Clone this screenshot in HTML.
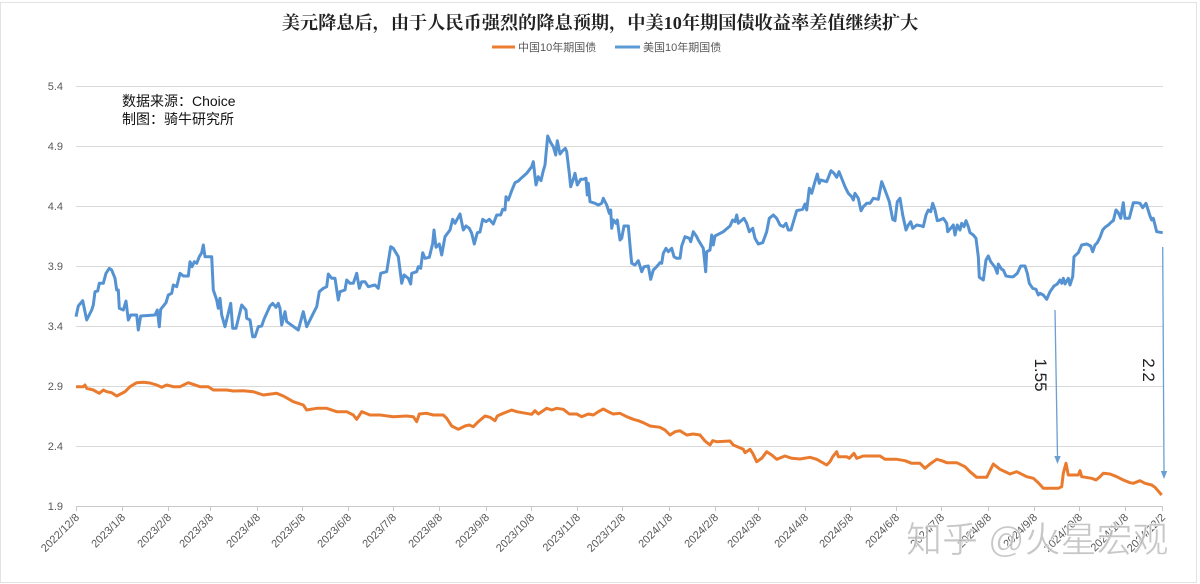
<!DOCTYPE html>
<html><head><meta charset="utf-8">
<style>
html,body{margin:0;padding:0;background:#fff;}
svg{display:block;}
text{font-family:"Liberation Sans","Noto Sans CJK SC",sans-serif;}
</style></head>
<body>
<svg width="1200" height="584" viewBox="0 0 1200 584" xmlns="http://www.w3.org/2000/svg">
<rect x="0.5" y="2.5" width="1196" height="580" fill="#fff" stroke="#e3e3e3" stroke-width="1"/>
<!-- title -->
<text x="600" y="29" text-anchor="middle" font-size="18.2" font-weight="bold" fill="#222" style="font-family:'Liberation Serif','Noto Serif CJK SC',serif">美元降息后，由于人民币强烈的降息预期，中美10年期国债收益率差值继续扩大</text>
<!-- legend -->
<line x1="492" y1="47" x2="515" y2="47" stroke="#ED7D31" stroke-width="3"/>
<text x="518" y="51" font-size="11" fill="#595959">中国10年期国债</text>
<line x1="615" y1="47" x2="640" y2="47" stroke="#5B9BD5" stroke-width="3"/>
<text x="643" y="51" font-size="11" fill="#595959">美国10年期国债</text>
<!-- gridlines -->
<g stroke="#d9d9d9" stroke-width="1">
<line x1="76" y1="86.5" x2="1163" y2="86.5"/>
<line x1="76" y1="146.5" x2="1163" y2="146.5"/>
<line x1="76" y1="206.5" x2="1163" y2="206.5"/>
<line x1="76" y1="266.5" x2="1163" y2="266.5"/>
<line x1="76" y1="326.5" x2="1163" y2="326.5"/>
<line x1="76" y1="386.5" x2="1163" y2="386.5"/>
<line x1="76" y1="446.5" x2="1163" y2="446.5"/>
</g>
<line x1="76" y1="506.5" x2="1163" y2="506.5" stroke="#c8c8c8" stroke-width="1"/>
<!-- y labels -->
<g font-size="11" fill="#595959" text-anchor="end">
<text x="63" y="90">5.4</text>
<text x="63" y="150">4.9</text>
<text x="63" y="210">4.4</text>
<text x="63" y="270">3.9</text>
<text x="63" y="330">3.4</text>
<text x="63" y="390">2.9</text>
<text x="63" y="450">2.4</text>
<text x="63" y="510">1.9</text>
</g>
<!-- x ticks -->
<g stroke="#c8c8c8" stroke-width="1">
<line x1="76.5" y1="506" x2="76.5" y2="511"/><line x1="122.5" y1="506" x2="122.5" y2="511"/><line x1="168.5" y1="506" x2="168.5" y2="511"/><line x1="210.5" y1="506" x2="210.5" y2="511"/><line x1="257.5" y1="506" x2="257.5" y2="511"/><line x1="302.5" y1="506" x2="302.5" y2="511"/><line x1="348.5" y1="506" x2="348.5" y2="511"/><line x1="393.5" y1="506" x2="393.5" y2="511"/><line x1="439.5" y1="506" x2="439.5" y2="511"/><line x1="486.5" y1="506" x2="486.5" y2="511"/><line x1="531.5" y1="506" x2="531.5" y2="511"/><line x1="577.5" y1="506" x2="577.5" y2="511"/><line x1="622.5" y1="506" x2="622.5" y2="511"/><line x1="669.5" y1="506" x2="669.5" y2="511"/><line x1="715.5" y1="506" x2="715.5" y2="511"/><line x1="758.5" y1="506" x2="758.5" y2="511"/><line x1="805.5" y1="506" x2="805.5" y2="511"/><line x1="850.5" y1="506" x2="850.5" y2="511"/><line x1="896.5" y1="506" x2="896.5" y2="511"/><line x1="941.5" y1="506" x2="941.5" y2="511"/><line x1="988.5" y1="506" x2="988.5" y2="511"/><line x1="1034.5" y1="506" x2="1034.5" y2="511"/><line x1="1079.5" y1="506" x2="1079.5" y2="511"/><line x1="1125.5" y1="506" x2="1125.5" y2="511"/><line x1="1162.5" y1="506" x2="1162.5" y2="511"/>
</g>
<!-- x labels -->
<g font-size="11" fill="#595959" text-anchor="end">
<text transform="translate(80,518) rotate(-45)">2022/12/8</text>
<text transform="translate(126,518) rotate(-45)">2023/1/8</text>
<text transform="translate(172,518) rotate(-45)">2023/2/8</text>
<text transform="translate(214,518) rotate(-45)">2023/3/8</text>
<text transform="translate(261,518) rotate(-45)">2023/4/8</text>
<text transform="translate(306,518) rotate(-45)">2023/5/8</text>
<text transform="translate(352,518) rotate(-45)">2023/6/8</text>
<text transform="translate(397,518) rotate(-45)">2023/7/8</text>
<text transform="translate(443,518) rotate(-45)">2023/8/8</text>
<text transform="translate(490,518) rotate(-45)">2023/9/8</text>
<text transform="translate(535,518) rotate(-45)">2023/10/8</text>
<text transform="translate(581,518) rotate(-45)">2023/11/8</text>
<text transform="translate(626,518) rotate(-45)">2023/12/8</text>
<text transform="translate(673,518) rotate(-45)">2024/1/8</text>
<text transform="translate(719,518) rotate(-45)">2024/2/8</text>
<text transform="translate(762,518) rotate(-45)">2024/3/8</text>
<text transform="translate(809,518) rotate(-45)">2024/4/8</text>
<text transform="translate(854,518) rotate(-45)">2024/5/8</text>
<text transform="translate(900,518) rotate(-45)">2024/6/8</text>
<text transform="translate(945,518) rotate(-45)">2024/7/8</text>
<text transform="translate(992,518) rotate(-45)">2024/8/8</text>
<text transform="translate(1038,518) rotate(-45)">2024/9/8</text>
<text transform="translate(1083,518) rotate(-45)">2024/10/8</text>
<text transform="translate(1129,518) rotate(-45)">2024/11/8</text>
<text transform="translate(1166,518) rotate(-45)">2024/12/2</text>
</g>
<!-- source -->
<text x="122" y="106" font-size="14" fill="#111">数据来源：Choice</text>
<text x="122" y="124" font-size="14" fill="#111">制图：骑牛研究所</text>
<!-- US series -->
<polyline fill="none" stroke="#5592D2" stroke-width="3" stroke-linejoin="round" points="76,316.7 78.3,306 82.7,300.7 86.7,320 91.7,310 93.3,305 95,291.7 97.7,291 99.3,283.3 103.3,283.3 106,273.3 109.3,268.3 111.7,270 115,278.3 116.7,290 118.3,290 119.3,308.3 123.3,310 126,301 128.3,320 130.7,315 136.7,315 138.3,330 140.7,316 155,315 157.3,310 159.3,326.7 160.7,309.3 166,302.7 168.3,295 171.7,293.3 173.3,285 176.7,286.7 180,273.3 183.3,276 188.3,276 190,261.7 192,266.7 194.3,261.7 196.7,263.3 199.3,256.7 201.7,252.7 203.3,245 205,256.7 211.7,256.7 213.3,290 216.7,300 218.3,308.3 220,298.3 221.7,315 225,326.7 230.7,303.3 232.7,328.3 236,328.3 241.7,305 246,310 246.7,318.3 250,320 252.7,336.7 255,336.7 258.3,326.7 261.7,326 264,319.3 266.7,313.3 270,306 272.7,303.3 276,307.3 278.3,303.3 280,308.3 281.7,325 285,311.7 286.7,321.7 298.3,330 303.3,311.7 306.7,326.7 313.3,313.3 316.7,306.7 319.3,291.7 323.3,288.3 326.7,286.7 328.3,274 331.7,278.3 335,278.3 338.3,300 340,291.7 345,290 346.7,280 350,283.3 353.3,283.3 356.7,273.3 359.3,288.3 361.7,281.7 365,281.7 368.3,286.7 375,285 378.3,288.3 380.7,273.3 386.7,271.7 390.7,246.7 393.3,248.3 398.3,256.7 401.7,283.3 404,275 408.3,278.3 410.7,284 411.7,273.3 416.7,271.7 418.3,266.7 420.7,268.3 422.7,252.7 425,258.3 429.3,257.3 432.7,243.3 434,230 436,247.3 439.3,244 441.7,255 445,236.7 450,230 452.7,219.3 455,223.3 460,214 463.3,230 466,226 469.3,228.3 471.7,233.3 474.3,244 477.3,232.7 480,232 482.7,219.3 486,221.7 489.3,219.3 493.3,224 496.7,215 500.7,215 502.7,209.3 505,210 506,196.7 508.3,200 511.7,190.7 515,182.7 518.3,181 521.7,177.7 526.7,173.3 531.7,166.7 533.3,161.7 536,185 538.3,176.7 541,180.7 543.3,170.7 545,165 547.7,136 550.7,142.7 553.3,146.7 555.7,155 557.3,140.7 560,154 562.7,150.7 565.3,148.3 566.7,151.7 569.3,173.3 570.7,186.7 573.3,179.3 575,173.3 577.3,185 579.3,181.7 580.7,179.3 583.3,179.3 586,178.3 587.3,195 588.3,183.3 590,201.7 595,203.3 598.3,205 601.7,203.3 603.3,198.3 606.7,205 609.3,213.3 610.7,210 611.7,228.3 613.3,220 616,223.3 617.3,220 620,240 621.7,238.3 624,226 628.3,226 630.7,253.3 631.7,263.3 635,265 638.3,260.7 641.7,271.7 644,266.7 648.3,266 650.7,279.3 653.3,270 656.7,266.7 660,262.7 661.7,263.3 663.3,253.3 666,248.3 668.3,251.7 671.7,248.3 674,256.7 676.7,258.3 680,258.3 681.7,246 685,236.7 689.3,238.3 690.7,241.7 693.3,231.7 696.7,236.7 698.3,240 700.7,244 703.3,248.3 705.7,271.7 706.7,251.7 710,250 711.7,235 713.3,245 715,236 723.3,231.7 730,226 732.7,220 735,221.7 736.7,215 738.3,223.3 744,218.3 746.7,223.3 749.3,231.7 752.7,228.3 755,238.3 758.3,244 762.7,242.7 766.7,231.7 769.3,218.3 773.3,215 776.7,218.3 780,225 783.3,226.7 786,223.3 788.3,230 791,230 796.7,210.7 802.7,209.3 805,204 806.7,210 809.3,188.3 811.7,193.3 814.3,184 817.3,174 819.3,183.3 820.7,180 826.7,181.7 831,170.7 834,173.3 836.7,177.3 839,171.7 841,176.7 845,186.7 848.3,193.3 851.7,196.7 853.3,200 855,193.3 858.3,198.3 861,210.7 863.3,206.7 866.7,203.3 870,203.3 873.3,198.3 878.3,199.3 881.7,181.7 885,190 889.3,201.7 892.7,219.3 895,220.7 897.3,201.7 900,198.3 902.7,215 906,230 908.3,225 910.7,221.7 912.7,228.3 916.7,225 921.7,226 923.3,226.7 926,215 928.3,210 930.7,211.7 932.7,203.3 935,210 937.3,220.7 940,220 943.3,218.3 946.7,223.3 947.7,231.7 950.7,228.3 953.3,225 955,235 957.3,225 960,230 961.7,223.3 964,226.7 966,220.7 968.3,226.7 970,232.7 973.3,235 976,238.3 978.3,256.7 979.3,277.3 983.3,280 986,260 988.3,256 990.7,261.7 993.3,265 995,267.3 997.3,273.3 998.3,264 1001.7,269.3 1003.3,270 1006,276 1010,276.7 1013.3,276.7 1017.3,273.3 1020.7,266 1025,266 1027.3,273.3 1029.3,283.3 1032.7,288.3 1036,289.3 1038.3,295 1040,293.3 1043.3,295 1046.7,299.3 1050,291.7 1054,286 1057.3,284 1060,280 1061.7,283.3 1063.3,278.3 1065,284 1068.3,278.3 1070,285 1072.7,276.7 1074,256.7 1078.3,252.7 1081.7,245 1086.7,244 1090.7,246 1092.7,251.7 1095,245 1097.3,242.7 1100,237.3 1102.7,230 1105,227.3 1108.3,225 1111.7,221.7 1113.3,220.7 1116,210 1118.3,212.7 1120.7,218.3 1123.3,202.7 1125,218.3 1129.3,218.3 1133.3,202.7 1136.7,202.7 1140,203.3 1142.7,207.7 1146,203.3 1150,216 1151.7,220 1153.3,218.3 1156.7,231.7 1162.7,232.7"/>
<!-- CN series -->
<polyline fill="none" stroke="#EA7B2E" stroke-width="3" stroke-linejoin="round" points="76,386.7 83.3,386.7 85,385 86.7,388.3 93.3,390 99.3,393.3 103.3,390 106.7,391.7 111.7,392.7 116.7,396 125,391.7 130,386.7 136.7,382.7 143.3,382.3 150,383 156.7,385 161.7,387.3 166.7,385 173.3,386.7 180,386.7 188.3,382.7 200,386.7 208.3,386.7 213.3,390 226.7,390 233.3,391 243.3,390.7 253.3,391.7 263.3,395 276.7,393.3 283.3,396 293.3,401.7 303.3,405 306.7,410 316.7,408.3 326.7,408.3 336.7,411.7 346.7,411.7 353.3,415 356.7,419.3 361.7,411.7 370,415 380,415 393.3,416.7 406.7,416 413.3,416.7 416.7,421.7 419.3,414 426.7,413.3 433.3,415 443.3,415 446.7,418.3 451.7,426 458.3,429.3 465,426 469.3,425 473.3,426.7 478.3,421.7 485,416 490,417.3 495,420.7 497.3,416 503.3,413.3 511.7,410 516.7,411.7 531.7,414.3 535,410.7 538.3,414 546.7,408.3 551.7,410 556.7,408.3 563.3,409.3 569.3,414 576.7,414 581.7,416.7 588.3,414 593.3,415 598.3,411.7 603.3,409 608.3,411.7 613.3,414 620,413.3 626.7,416.7 633.3,419.3 638.3,420.7 643.3,422.7 650,426 660,427.3 665,430 670,435 675,431.7 680,430.7 686.7,435 693.3,434 700,435 705,441 710,445 712.7,440.7 716.7,441.7 730,441 733.3,445 743.3,449.3 745,452.7 750,449.3 752.7,453.3 756.7,461.7 761.7,458.3 766.7,451.7 771.7,455 776.7,459.3 785,456 791.7,458.3 800,459 810,457.3 816.7,459.3 826.7,465 830,461.7 832.7,456.7 836.7,451.7 838.3,456.7 846.7,456.7 849.3,458.3 854,453.3 856.7,458.3 863.3,456 880,456 885,459.3 896.7,459.3 905,460.7 911.7,463.3 920,463.3 925,468.3 930,464 936.7,459.3 941.7,460.7 946.7,462.7 956.7,462.7 965,466.7 970,471.7 976.7,477.3 986.7,477.3 993.3,464 1000,469.3 1010,474 1016.7,471.7 1026.7,476.7 1033.3,478.3 1038.3,482.7 1043.3,488.3 1058.3,488.3 1061.7,486.7 1063.3,473.3 1066,463.3 1068.3,475 1078.3,475 1080,470.7 1081.7,476.7 1091.7,478.3 1096,480 1100,476.7 1103.3,473.3 1110,474 1116.7,476.7 1123.3,480 1130,482.7 1133.3,483.3 1140,480.7 1145,483.3 1151.7,485 1155,487.3 1161.7,495"/>
<!-- arrows -->
<line x1="1055" y1="310" x2="1057.5" y2="457" stroke="#6a9fd0" stroke-width="1.3"/>
<polygon points="1057.5,464 1054.3,456 1060.7,456" fill="#6a9fd0"/>
<line x1="1162.7" y1="247" x2="1164" y2="471" stroke="#6a9fd0" stroke-width="1.3"/>
<polygon points="1164,479 1160.8,471 1167.2,471" fill="#6a9fd0"/>
<text transform="translate(1035,375) rotate(90)" text-anchor="middle" font-size="17" fill="#222">1.55</text>
<text transform="translate(1143,370) rotate(90)" text-anchor="middle" font-size="17" fill="#222">2.2</text>
<!-- watermark -->
<text x="906" y="552" font-size="36" fill="#bdbdbd" fill-opacity="0.85" stroke="#ffffff" stroke-width="0.6" style="font-family:'Liberation Sans','Noto Sans CJK SC',sans-serif">知乎 @火星宏观</text>
</svg>
</body></html>
